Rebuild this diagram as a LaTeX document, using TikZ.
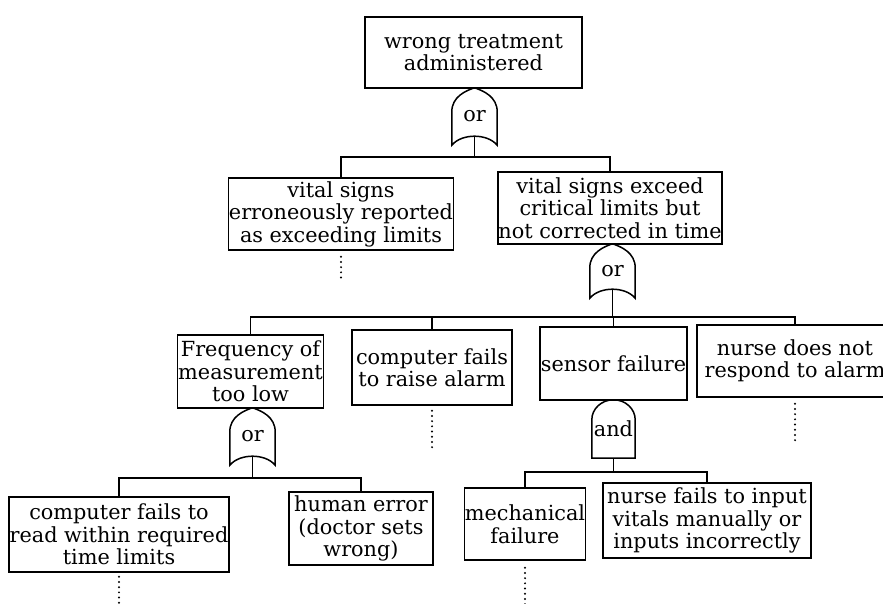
\documentclass[tikz,border=0pt]{standalone}
\usepackage{fontspec}
\setmainfont{DejaVu Serif}
\usetikzlibrary{calc}
\tikzset{
  box/.style={draw, line width=1.5pt, inner xsep=0.5pt, inner ysep=0pt, align=center,
    font=\fontsize{20.8}{22.5}\selectfont},
  gate/.style={inner sep=0pt, font=\fontsize{20.8}{22.5}\selectfont},
  link/.style={line width=1.5pt},
  dots/.style={line width=2.2pt, line cap=round, dash pattern=on 0pt off 5.2pt},
}
\newcommand\orshape[1]{%
  \draw[link] (#1.south west) -- ($(#1.north west)+(0,24)$)
    .. controls ($(#1.north west)+(0,9)$) and ($(#1.north)+(-9,3)$) .. (#1.north)
    .. controls ($(#1.north)+(9,3)$) and ($(#1.north east)+(0,9)$) .. ($(#1.north east)+(0,24)$)
    -- (#1.south east)
    .. controls ($(#1.south east)+(-10,-12)$) and ($(#1.south west)+(10,-12)$) .. (#1.south west) -- cycle;
  \coordinate (#1o) at ($(#1.south)+(0,-9)$);}
\newcommand\andshape[1]{%
  \draw[link] (#1.south west) -- ($(#1.north west)+(0,20)$)
    .. controls ($(#1.north west)+(0,9)$) and ($(#1.north)+(-12,0)$) .. (#1.north)
    .. controls ($(#1.north)+(12,0)$) and ($(#1.north east)+(0,9)$) .. ($(#1.north east)+(0,20)$)
    -- (#1.south east) -- cycle;
  \coordinate (#1o) at (#1.south);}
\begin{document}
\begin{tikzpicture}[x=1pt,y=-1pt]
\useasboundingbox (0,0) rectangle (883,604);
\fill[white] (0,0) rectangle (883,604);

% boxes
\node[box, minimum width=217pt, minimum height=71pt] (T) at (473.5,52.5) {wrong treatment\\administered};
\node[box, minimum width=218pt, minimum height=72pt] (A) at (341,214) {vital signs\\erroneously reported\\as exceeding limits};
\node[box, minimum width=214pt, minimum height=72pt] (B) at (610,208) {vital signs exceed\\critical limits but\\not corrected in time};
\node[box, minimum width=145pt, minimum height=73pt] (C) at (250.5,371.5) {Frequency of\\measurement\\too low};
\node[box, minimum width=160pt, minimum height=75pt] (D) at (432,367.5) {computer fails\\to raise alarm};
\node[box, minimum width=147pt, minimum height=73pt] (E) at (613.5,363.5) {sensor failure};
\node[box, minimum width=196pt, minimum height=72pt] (F) at (795,361) {nurse does not\\respond to alarm};
\node[box, minimum width=218pt, minimum height=75pt] (G) at (119,534.5) {computer fails to\\read within required\\time limits};
\node[box, minimum width=144pt, minimum height=73pt] (H) at (361,528.5) {human error\\(doctor sets\\wrong)};
\node[box, minimum width=116pt, minimum height=72pt] (I) at (525,524) {mechanical\\failure};
\node[box, minimum width=208pt, minimum height=75pt] (J) at (707,520.5) {nurse fails to input\\vitals manually or\\inputs incorrectly};

% gates
\node[gate, minimum width=45pt, minimum height=57pt] (O1) at (474.5,116.5) {or};
\node[gate, minimum width=45pt, minimum height=54pt] (O2) at (612.5,271) {or};
\node[gate, minimum width=45pt, minimum height=57pt] (O3) at (252.5,436.5) {or};
\node[gate, minimum width=43pt, minimum height=58pt] (N1) at (613.5,429) {and};
\orshape{O1}
\orshape{O2}
\orshape{O3}
\andshape{N1}

% bars
\coordinate (bar1) at (0,157);
\coordinate (bar2) at (0,317);
\coordinate (bar3) at (0,478);
\coordinate (bar4) at (0,472);

\draw[link] (O1o) -- (O1o |- bar1);
\draw[link] (A.north) -- (A.north |- bar1) -- (B.north |- bar1) -- (B.north);

\draw[link] (O2o) -- (O2o |- bar2);
\draw[link] (C.north) -- (C.north |- bar2) -- (F.north |- bar2) -- (F.north);
\draw[link] (D.north) -- (D.north |- bar2);
\draw[link] (E.north) -- (E.north |- bar2);

\draw[link] (O3o) -- (O3o |- bar3);
\draw[link] (G.north) -- (G.north |- bar3) -- (H.north |- bar3) -- (H.north);

\draw[link] (N1o) -- (N1o |- bar4);
\draw[link] (I.north) -- (I.north |- bar4) -- (J.north |- bar4) -- (J.north);

% undeveloped (dotted) continuations
\draw[dots] ($(A.south)+(0,6)$) -- ($(A.south)+(0,28)$);
\draw[dots] ($(D.south)+(0,5)$) -- ($(D.south)+(0,43)$);
\draw[dots] ($(F.south)+(0,6)$) -- ($(F.south)+(0,43)$);
\draw[dots] ($(I.south)+(0,7)$) -- ($(I.south)+(0,44)$);
\draw[dots] ($(G.south)+(0,4)$) -- ($(G.south)+(0,32)$);
\end{tikzpicture}
\end{document}
